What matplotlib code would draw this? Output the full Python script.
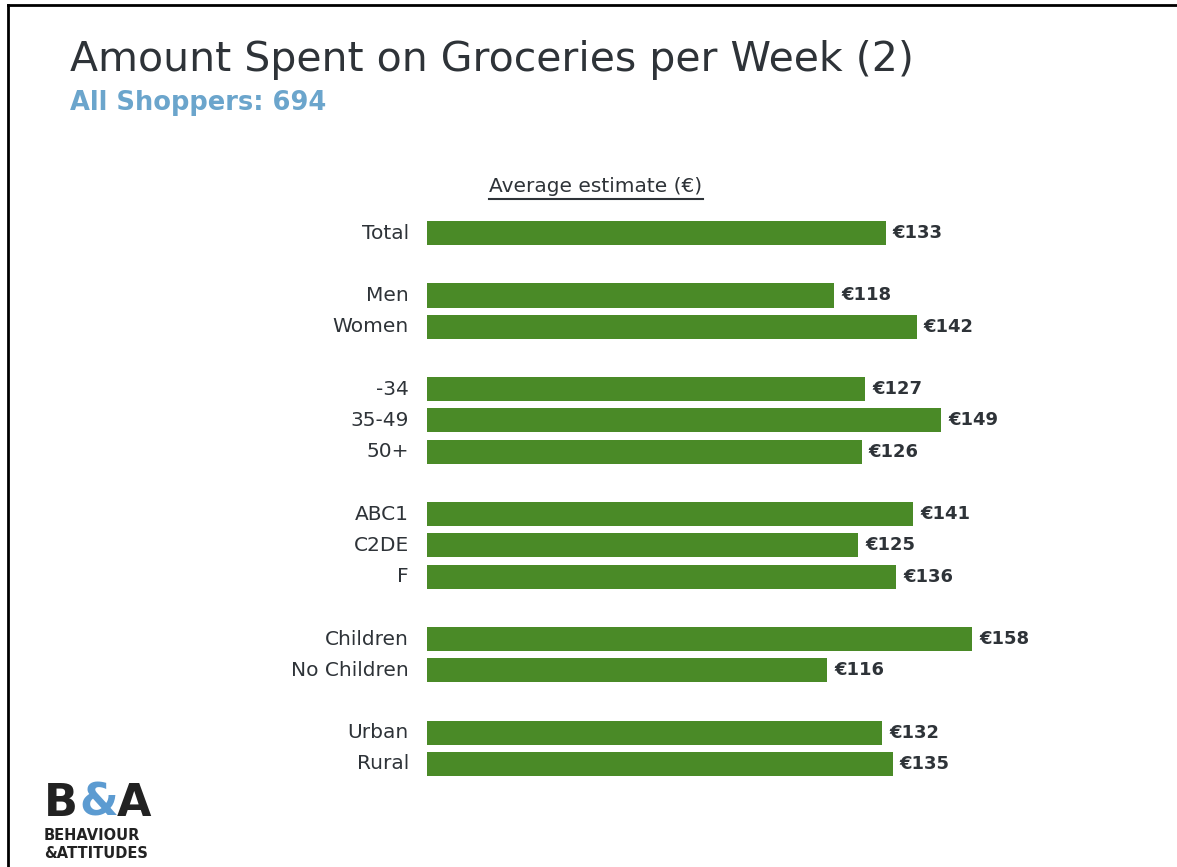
import matplotlib.pyplot as plt
from matplotlib.lines import Line2D

categories = ['Total', 'Men', 'Women', '-34', '35-49', '50+',
              'ABC1', 'C2DE', 'F', 'Children', 'No Children', 'Urban', 'Rural']
values = [133, 118, 142, 127, 149, 126, 141, 125, 136, 158, 116, 132, 135]
# slot of each bar, with an empty slot between groups
slots = [0, 2, 3, 5, 6, 7, 9, 10, 11, 13, 14, 16, 17]

green = '#4A8A27'
dark = '#2E3338'
blue = '#6BA5CC'

fig = plt.figure(figsize=(11.77, 8.67), dpi=100)
fig.patch.set_facecolor('white')

# frame lines (top and left only)
fig.add_artist(Line2D([8/1177, 8/1177], [0, 1 - 5/867], color='black', lw=2))
fig.add_artist(Line2D([8/1177, 1], [1 - 5/867, 1 - 5/867], color='black', lw=2))

fig.text(70/1177, 1 - 60/867, 'Amount Spent on Groceries per Week (2)',
         fontsize=29.5, color=dark, va='center', ha='left')
fig.text(70/1177, 1 - 103/867, 'All Shoppers: 694',
         fontsize=18.5, color=blue, va='center', ha='left', fontweight='bold')

ax = fig.add_axes([427/1177, 1 - 779.6/867, 690/1177, 562.2/867])
ax.barh(slots, values, height=0.77, color=green)
ax.set_xlim(0, 200)
ax.set_ylim(17.5, -0.5)
ax.set_yticks(slots)
ax.set_yticklabels(categories, fontsize=14.5, color=dark, va='center')
ax.tick_params(axis='y', length=0, pad=13)
ax.set_xticks([])
for s in ax.spines.values():
    s.set_visible(False)

for y, v in zip(slots, values):
    ax.text(v + 2, y, f'€{v}', va='center', ha='left', fontsize=13,
            fontweight='bold', color=dark)

# header with underline
hdr = fig.text(596/1177, 1 - 186/867, 'Average estimate (€)', fontsize=14.5,
               color=dark, ha='center', va='center')
fig.canvas.draw()
bb = hdr.get_window_extent().transformed(fig.transFigure.inverted())
fig.add_artist(Line2D([bb.x0, bb.x1], [1 - 199/867, 1 - 199/867], color=dark, lw=1.5))

# logo
ink = '#222222'
fig.text(44/1177, 1 - 816/867, 'B', fontsize=32, fontweight='bold', color=ink,
         ha='left', va='baseline')
fig.text(79/1177, 1 - 816/867, '&', fontsize=32, fontweight='bold', color='#5C9BD1',
         ha='left', va='baseline')
fig.text(117/1177, 1 - 816/867, 'A', fontsize=32, fontweight='bold', color=ink,
         ha='left', va='baseline')
fig.text(44/1177, 1 - 836/867, 'BEHAVIOUR', fontsize=10.5, fontweight='bold',
         color=ink, ha='left', va='center')
fig.text(44/1177, 1 - 853/867, '&ATTITUDES', fontsize=10.5, fontweight='bold',
         color=ink, ha='left', va='center')

fig.savefig('out.png', dpi=100, facecolor='white')
